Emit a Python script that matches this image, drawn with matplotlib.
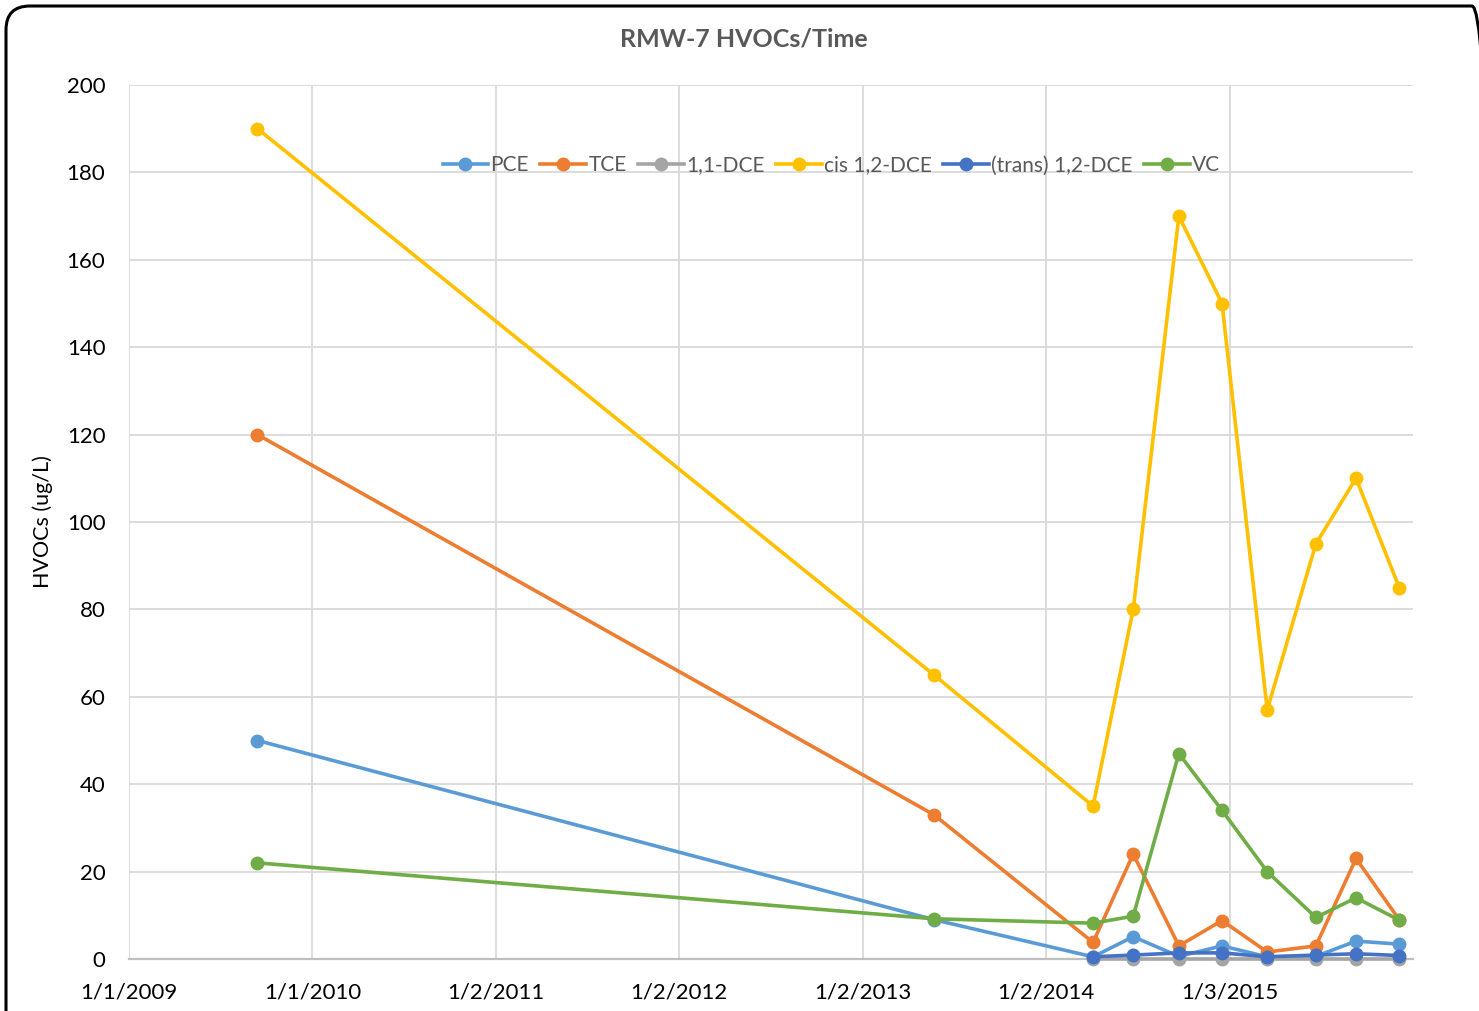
import datetime as dt
import matplotlib
matplotlib.use("Agg")
import matplotlib.pyplot as plt
import matplotlib.dates as mdates
from matplotlib.patches import FancyBboxPatch
from matplotlib.transforms import IdentityTransform

plt.rcParams['font.family'] = ['Lato', 'DejaVu Sans']

# Sampling dates for well RMW-7
dates = ["2009-09-14", "2013-05-24", "2014-04-06", "2014-06-25", "2014-09-24",
         "2014-12-19", "2015-03-19", "2015-06-24", "2015-09-12", "2015-12-07"]

# Concentrations in ug/L (None = not reported)
pce = [50, 9, 0.5, 5.1, 0.6, 3.0, 0.5, 0.6, 4.1, 3.4]
tce = [120, 33, 3.8, 24, 3.0, 8.8, 1.6, 3.0, 23, 9]
dce11 = [None, None, 0, 0, 0, 0, 0, 0, 0, 0]
cis12 = [190, 65, 35, 80, 170, 150, 57, 95, 110, 85]
trans12 = [None, None, 0.5, 0.9, 1.4, 1.4, 0.5, 0.9, 1.2, 0.8]
vc = [22, 9.2, 8.2, 9.8, 47, 34, 20, 9.5, 14, 8.9]

series = [("PCE", pce, "#5B9BD5"),
          ("TCE", tce, "#ED7D31"),
          ("1,1-DCE", dce11, "#A5A5A5"),
          ("cis 1,2-DCE", cis12, "#FFC000"),
          ("(trans) 1,2-DCE", trans12, "#4472C4"),
          ("VC", vc, "#70AD47")]

x = [mdates.date2num(dt.datetime.strptime(d, "%Y-%m-%d")) for d in dates]

fig = plt.figure(figsize=(14.79, 10.11), dpi=100)
ax = fig.add_axes([129 / 1479, 1 - 959 / 1011, 1284 / 1479, 874 / 1011])

for name, vals, col in series:
    xs = [xi for xi, v in zip(x, vals) if v is not None]
    ys = [v for v in vals if v is not None]
    ax.plot(xs, ys, color=col, lw=2.6, marker='o', ms=9, label=name,
            solid_joinstyle='round', clip_on=False)

# date axis with a 365.5 day major unit
start = mdates.date2num(dt.datetime(2009, 1, 1))
tick_labels = ["1/1/2009", "1/1/2010", "1/2/2011", "1/2/2012",
               "1/2/2013", "1/2/2014", "1/3/2015"]
ticks = [start + 365.5 * i for i in range(len(tick_labels))]
ax.set_xticks(ticks)
ax.set_xticklabels(tick_labels)
ax.set_xlim(start, start + 365.5 * 7)
ax.set_ylim(0, 200)
ax.set_yticks(range(0, 201, 20))

ax.grid(True, color="#D9D9D9", lw=1.3)
ax.set_axisbelow(True)
for s in ["top", "right", "left"]:
    ax.spines[s].set_visible(False)
ax.spines["bottom"].set_color("#BFBFBF")
ax.spines["bottom"].set_linewidth(1.6)
ax.spines["bottom"].set_zorder(1)
ax.tick_params(length=0, labelsize=16, colors="black")
ax.tick_params(axis='x', pad=17)
ax.tick_params(axis='y', pad=17)

ax.set_ylabel("HVOCs (ug/L)", fontsize=15.5, labelpad=10)
fig.text(744 / 1479, 1 - 39 / 1011, "RMW-7 HVOCs/Time", ha='center', va='center',
         fontsize=18, fontweight='bold', color="#595959")

leg = ax.legend(loc='center', bbox_to_anchor=(0.547, 0.908), ncol=6, frameon=False,
                fontsize=15, handlelength=2.2, handletextpad=0.1, columnspacing=0.55,
                borderaxespad=0)
for t in leg.get_texts():
    t.set_color("#595959")

# rounded chart-area border
frame = FancyBboxPatch((6, -30), 1490, 1011 - 6 + 30,
                       boxstyle="round,pad=0,rounding_size=24",
                       fill=False, ec="black", lw=2.2, transform=IdentityTransform())
fig.patches.append(frame)

fig.savefig("out.png", dpi=100)
